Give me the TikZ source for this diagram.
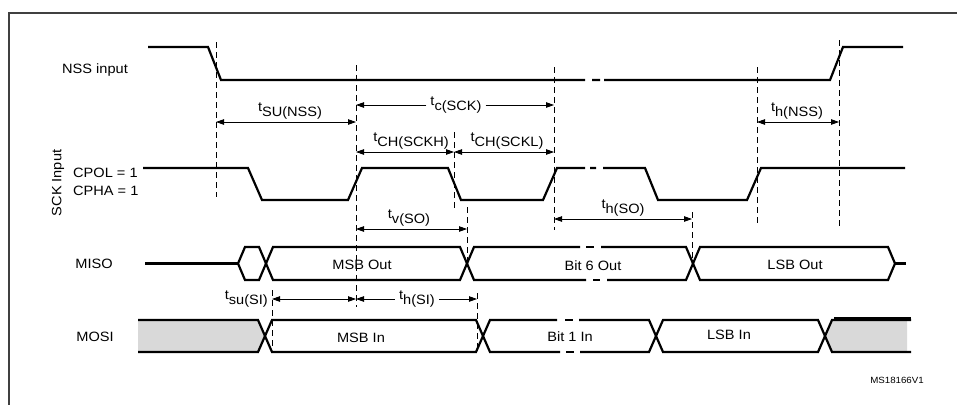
\documentclass[tikz,border=0pt]{standalone}
\usepackage{fontspec}
\setmainfont{Liberation Sans}[FakeStretch=1.08]
\usepackage{xcolor}
\usetikzlibrary{arrows.meta}
\definecolor{busgray}{HTML}{D9D9D9}
\definecolor{framegray}{HTML}{404040}
\newcommand{\tpar}[1]{\raisebox{5pt}{t}#1}

\begin{document}
\begin{tikzpicture}[
  x=1pt, y=-1pt,
  font=\fontsize{13.5}{16}\selectfont,
  wave/.style={line width=2.2pt},
  guide/.style={line width=0.8pt, dash pattern=on 6pt off 4pt},
  dim/.style={{Triangle[length=8pt,width=5.5pt]}-{Triangle[length=8pt,width=5.5pt]}, line width=0.8pt},
  dimto/.style={-{Triangle[length=8pt,width=5.5pt]}, line width=0.8pt},
  tlabel/.style={anchor=south, inner sep=3pt},
  inline/.style={anchor=center, inner xsep=4pt, inner ysep=1pt},
  siglabel/.style={inner sep=1pt},
  buslabel/.style={inner sep=1pt}
]
  \useasboundingbox (0,0) rectangle (957,405);
  \draw[line width=1.2pt, framegray] (957,13) -- (9,13) -- (9,405);

  % guide lines
  \foreach \n/\x/\ya/\yb in {nssfall/216/42/197, sckA/356/65/307, sckB/454/132/210,
      misoA/467/207/262, sckC/554/67/230, misoB/692/212/265, sckD/757/67/225,
      nssrise/839/40/228, mosiA/272/290/350, mosiB/477/293/350}
  {
    \coordinate (\n) at (\x,\ya);
    \draw[guide] (\n) -- (\x,\yb);
  }

  % signal names
  \node[siglabel] (nsslab) at (95,70) {NSS input};
  \node[siglabel, rotate=90] (scklab) at (58,183) {SCK Input};
  \node[siglabel, anchor=west] (cpol) at (72,173) {CPOL = 1};
  \node[siglabel, anchor=west] (cpha) at (72,191) {CPHA = 1};
  \node[siglabel] (misolab) at (94,264) {MISO};
  \node[siglabel] (mosilab) at (95,337) {MOSI};

  % NSS and SCK
  \draw[wave] (148,47) -- (208,47) -- (221,80) -- (585,80)
    (592,80) -- (600,80) (604,80) -- (830,80) -- (843,47) -- (903,47);
  \draw[wave] (143,168) -- (248,168) -- (262,200) -- (348,200) -- (362,168)
    -- (448,168) -- (461,200) -- (543,200) -- (557,168) -- (585,168)
    (590,168) -- (596,168) (603,168) -- (645,168) -- (658,200) -- (747,200)
    -- (761,168) -- (905,168);

  % MISO
  \draw[wave] (145,263.5) -- (238,263.5);
  \draw[wave] (238,263.5) -- (245,247) -- (259,247) -- (266,263.5) -- (259,280) -- (245,280) -- cycle;
  \draw[wave] (266,263.5) -- (273,247) -- (460,247) -- (467,263.5) -- (460,280) -- (273,280) -- cycle;
  \draw[wave] (580,247) -- (474,247) -- (467,263.5) -- (474,280) -- (586,280);
  \draw[wave] (601,247) -- (686,247) -- (693,263.5) -- (686,280) -- (607,280);
  \draw[wave] (586,247) -- (594,247) (593,280) -- (600,280);
  \draw[wave] (693,263.5) -- (700,247) -- (888,247) -- (895,263.5) -- (888,280) -- (700,280) -- cycle;
  \draw[wave] (895,263.5) -- (906,263.5);
  \node[buslabel] (msbout) at (362,265) {MSB Out};
  \node[buslabel] (bit6out) at (593,266) {Bit 6 Out};
  \node[buslabel] (lsbout) at (795,265) {LSB Out};

  % MOSI
  \fill[busgray] (138,320) -- (258,320) -- (265,336) -- (258,352) -- (138,352) -- cycle;
  \draw[wave] (138,320) -- (258,320) -- (265,336) -- (258,352) -- (138,352);
  \draw[wave] (265,336) -- (272,320) -- (476,320) -- (483,336) -- (476,352) -- (272,352) -- cycle;
  \draw[wave] (557,320) -- (490,320) -- (483,336) -- (490,352) -- (560,352);
  \draw[wave] (579,320) -- (649,320) -- (656,336) -- (649,352) -- (580,352);
  \draw[wave] (565,320) -- (573,320) (566,352) -- (574,352);
  \draw[wave] (656,336) -- (663,320) -- (818,320) -- (825,336) -- (818,352) -- (663,352) -- cycle;
  \fill[busgray] (825,336) -- (832,320) -- (907,320) -- (907,352) -- (832,352) -- cycle;
  \draw[wave] (911,320) -- (832,320) -- (825,336) -- (832,352) -- (911,352);
  \draw[line width=3.6pt] (834,319) -- (911,319);
  \node[buslabel] (msbin) at (361,338) {MSB In};
  \node[buslabel] (bit1in) at (570,337) {Bit 1 In};
  \node[buslabel] (lsbin) at (729,335) {LSB In};

  % timing parameters
  \node[tlabel] (tsunss) at (290,122) {\tpar{SU(NSS)}};
  \draw[dim] (nssfall |- tsunss.south) -- (sckA |- tsunss.south);
  \node[tlabel] (thnss) at (797,122) {\tpar{h(NSS)}};
  \draw[dim] (sckD |- thnss.south) -- (nssrise |- thnss.south);
  \node[inline] (tcsck) at (456,105) {\tpar{c(SCK)}};
  \draw[dimto] (tcsck.west) -- (sckA |- tcsck.west);
  \draw[dimto] (tcsck.east) -- (sckC |- tcsck.east);
  \node[tlabel] (tchh) at (411,152) {\tpar{CH(SCKH)}};
  \draw[dim] (sckA |- tchh.south) -- (sckB |- tchh.south);
  \node[tlabel] (tchl) at (507,152) {\tpar{CH(SCKL)}};
  \draw[dim] (sckB |- tchl.south) -- (sckC |- tchl.south);
  \node[tlabel] (tvso) at (409,229) {\tpar{v(SO)}};
  \draw[dim] (sckA |- tvso.south) -- (misoA |- tvso.south);
  \node[tlabel] (thso) at (623,219) {\tpar{h(SO)}};
  \draw[dim] (sckC |- thso.south) -- (misoB |- thso.south);
  \node[inline, anchor=east, inner xsep=3pt] (tsusi) at (271,299) {\tpar{su(SI)}};
  \draw[dim] (mosiA |- tsusi.east) -- (sckA |- tsusi.east);
  \node[inline] (thsi) at (417,299) {\tpar{h(SI)}};
  \draw[dimto] (thsi.west) -- (sckA |- thsi.west);
  \draw[dimto] (thsi.east) -- (mosiB |- thsi.east);

  \node[font=\fontsize{9}{10}\selectfont] (msid) at (897,380) {MS18166V1};
\end{tikzpicture}
\end{document}
